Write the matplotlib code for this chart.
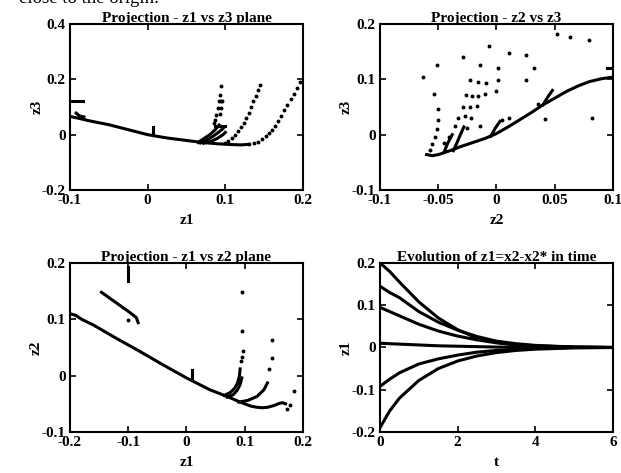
import numpy as np
import matplotlib
matplotlib.use("Agg")
import matplotlib.pyplot as plt

plt.rcParams['font.family'] = ['Liberation Serif', 'DejaVu Serif']
plt.rcParams['font.weight'] = 'bold'
plt.rcParams['font.size'] = 10

# ---- top-left: z1 vs z3 ----
tl_main_x = [-0.1, -0.09, -0.075, -0.05, -0.025, 0.0, 0.025, 0.05, 0.07, 0.09, 0.11, 0.12, 0.13]
tl_main_y = [0.066, 0.06, 0.05, 0.036, 0.018, 0.0, -0.012, -0.021, -0.028, -0.033, -0.036, -0.037, -0.035]
tl_dots_a_x = [0.13, 0.137, 0.142, 0.147, 0.152, 0.156, 0.16, 0.164, 0.168, 0.172, 0.176, 0.18, 0.184, 0.188, 0.192, 0.196]
tl_dots_a_y = [-0.035, -0.031, -0.025, -0.016, -0.006, 0.005, 0.018, 0.033, 0.05, 0.068, 0.088, 0.108, 0.128, 0.148, 0.17, 0.192]
tl_dots_b_x = [0.1, 0.104, 0.108, 0.112, 0.116, 0.12, 0.124, 0.127, 0.13, 0.133, 0.136, 0.139, 0.142, 0.145]
tl_dots_b_y = [-0.03, -0.022, -0.012, -0.001, 0.012, 0.026, 0.042, 0.06, 0.08, 0.1, 0.12, 0.14, 0.16, 0.178]
tl_dots_c_x = [0.085, 0.087, 0.088, 0.093, 0.095, 0.091, 0.095, 0.092, 0.096, 0.093, 0.095]
tl_dots_c_y = [0.041, 0.053, 0.072, 0.076, 0.096, 0.096, 0.123, 0.123, 0.123, 0.145, 0.175]
tl_fan = [
    ([0.065, 0.072, 0.08, 0.087, 0.092], [-0.028, -0.015, 0.0, 0.018, 0.035]),
    ([0.068, 0.076, 0.084, 0.091, 0.097], [-0.03, -0.02, -0.006, 0.008, 0.022]),
    ([0.072, 0.082, 0.09, 0.097, 0.1], [-0.031, -0.024, -0.013, 0.0, 0.008]),
    ([0.087, 0.1], [0.03, 0.03]),
    ([-0.1, -0.083], [0.12, 0.12]),
    ([0.007, 0.007], [0.0, 0.029]),
    ([-0.092, -0.088, -0.082], [0.078, 0.068, 0.064]),
]

# ---- top-right: z2 vs z3 ----
tr_main_x = [-0.06, -0.055, -0.05, -0.04, -0.03, -0.02, -0.01, 0.0, 0.01, 0.02, 0.03, 0.04, 0.05, 0.06, 0.07, 0.08, 0.09, 0.1]
tr_main_y = [-0.036, -0.038, -0.036, -0.029, -0.021, -0.014, -0.007, 0.002, 0.014, 0.027, 0.04, 0.054, 0.066, 0.078, 0.088, 0.096, 0.101, 0.104]
tr_dots_x = [-0.063, -0.051, -0.054, -0.05, -0.05, -0.051, -0.053, -0.055, -0.057,
             -0.029, -0.014, -0.023, -0.016, -0.009, -0.026, -0.021, -0.016, -0.010,
             -0.029, -0.023, -0.017, -0.033, -0.027, -0.022, -0.036, -0.025, -0.014,
             -0.006, 0.0015, 0.0015, 0.0, 0.011, 0.025, 0.0325, 0.025, 0.052, 0.063,
             0.079, 0.036, 0.042, 0.082, 0.011, 0.0045, -0.045, -0.041]
tr_dots_y = [0.105, 0.125, 0.074, 0.046, 0.027, 0.01, -0.005, -0.017, -0.028,
             0.141, 0.126, 0.099, 0.096, 0.093, 0.072, 0.069, 0.069, 0.074,
             0.05, 0.05, 0.052, 0.031, 0.033, 0.03, 0.016, 0.012, 0.016,
             0.16, 0.121, 0.098, 0.079, 0.148, 0.144, 0.121, 0.098, 0.182, 0.176,
             0.171, 0.055, 0.028, 0.031, 0.031, 0.027, -0.015, -0.005]
tr_branches = [
    ([-0.045, -0.042, -0.038], [-0.032, -0.016, 0.0]),
    ([-0.037, -0.034, -0.031, -0.028], [-0.029, -0.015, 0.0, 0.014]),
    ([-0.005, -0.001, 0.003], [-0.003, 0.012, 0.024]),
    ([0.04, 0.044, 0.048], [0.054, 0.068, 0.08]),
    ([0.095, 0.1], [0.121, 0.121]),
]

# ---- bottom-left: z1 vs z2 ----
bl_main_x = [-0.2, -0.19, -0.18, -0.16, -0.12, -0.08, -0.04, 0.0, 0.04, 0.07, 0.09, 0.1, 0.11, 0.12, 0.13, 0.14, 0.15, 0.16, 0.165, 0.17]
bl_main_y = [0.11, 0.107, 0.1, 0.09, 0.066, 0.043, 0.019, -0.004, -0.025, -0.037, -0.046, -0.05, -0.054, -0.056, -0.057, -0.056, -0.053, -0.049, -0.048, -0.05]
bl_dots_x = [0.093, 0.095, 0.097, 0.095, 0.095, 0.142, 0.147, 0.146, 0.178, 0.173, 0.184, -0.101]
bl_dots_y = [0.026, 0.034, 0.043, 0.079, 0.148, 0.012, 0.032, 0.064, -0.052, -0.06, -0.028, 0.098]
bl_branches = [
    ([0.065, 0.075, 0.083, 0.088, 0.091, 0.092], [-0.035, -0.03, -0.022, -0.012, 0.0, 0.012]),
    ([0.07, 0.08, 0.087, 0.092, 0.095], [-0.038, -0.034, -0.026, -0.016, -0.004]),
    ([0.09, 0.105, 0.121, 0.133, 0.139], [-0.047, -0.044, -0.037, -0.025, -0.013]),
    ([-0.146, -0.097, -0.086, -0.083], [0.148, 0.112, 0.103, 0.094]),
    ([-0.1, -0.1], [0.192, 0.168]),
    ([0.01, 0.01], [-0.005, 0.01]),
]

# ---- bottom-right: z1 in time ----
t = [0, 0.25, 0.5, 1, 1.5, 2, 2.5, 3, 3.5, 4, 5, 6]
z1_runs = [
    [0.2, 0.18, 0.155, 0.108, 0.07, 0.042, 0.022, 0.012, 0.007, 0.004, 0.001, 0],
    [0.145, 0.13, 0.118, 0.085, 0.06, 0.041, 0.026, 0.015, 0.009, 0.005, 0.001, 0],
    [0.095, 0.085, 0.075, 0.055, 0.039, 0.027, 0.018, 0.011, 0.006, 0.003, 0.001, 0],
    [0.01, 0.009, 0.008, 0.006, 0.004, 0.003, 0.002, 0.001, 0.0005, 0, 0, 0],
    [-0.092, -0.075, -0.06, -0.039, -0.027, -0.018, -0.011, -0.007, -0.004, -0.002, 0, 0],
    [-0.19, -0.15, -0.12, -0.078, -0.05, -0.032, -0.02, -0.012, -0.007, -0.004, -0.001, 0],
]

lw = 2.2
dot = dict(ls='none', marker='o', ms=1.8, color='k')


def style(ax, xt, xl, yt, yl, title, xlabel, ylabel):
    ax.set_xlim(xt[0], xt[-1])
    ax.set_ylim(yt[0], yt[-1])
    ax.set_xticks(xt)
    ax.set_xticklabels(xl)
    ax.set_yticks(yt)
    ax.set_yticklabels(yl)
    ax.tick_params(direction='in', top=True, right=True, length=4, width=1.2, labelsize=11, pad=3)
    for s in ax.spines.values():
        s.set_linewidth(1.5)
    ax.set_title(title, fontsize=11, fontweight='bold', y=1.0, pad=1.5)
    ax.set_xlabel(xlabel, fontsize=11, fontweight='bold', labelpad=5)
    ax.set_ylabel(ylabel, fontsize=11, fontweight='bold', labelpad=-1)


fig = plt.figure(figsize=(6.21, 4.73), dpi=100)
# caption line of the page, cut by the top edge as in the scan
fig.text(0.03, 0.9935, "close to the origin.", fontsize=13.5, va='baseline', ha='left',
         fontweight='normal')

ax1 = fig.add_axes([0.1127, 0.5983, 0.3752, 0.351])
ax1.plot(tl_main_x, tl_main_y, 'k-', lw=lw)
for xs, ys in tl_fan:
    ax1.plot(xs, ys, 'k-', lw=lw)
ax1.plot(tl_dots_a_x, tl_dots_a_y, **dot)
ax1.plot(tl_dots_b_x, tl_dots_b_y, **dot)
ax1.plot(tl_dots_c_x, tl_dots_c_y, **dot)
style(ax1, [-0.1, 0, 0.1, 0.2], ['-0.1', '0', '0.1', '0.2'],
      [-0.2, 0, 0.2, 0.4], ['-0.2', '0', '0.2', '0.4'],
      'Projection - z1 vs z3 plane', 'z1', 'z3')

ax2 = fig.add_axes([0.6119, 0.5983, 0.3752, 0.351])
ax2.plot(tr_main_x, tr_main_y, 'k-', lw=lw)
for xs, ys in tr_branches:
    ax2.plot(xs, ys, 'k-', lw=lw)
ax2.plot(tr_dots_x, tr_dots_y, **dot)
style(ax2, [-0.1, -0.05, 0, 0.05, 0.1], ['-0.1', '-0.05', '0', '0.05', '0.1'],
      [-0.1, 0, 0.1, 0.2], ['-0.1', '0', '0.1', '0.2'],
      'Projection - z2 vs z3', 'z2', 'z3')

ax3 = fig.add_axes([0.1127, 0.0867, 0.3752, 0.3573])
ax3.plot(bl_main_x, bl_main_y, 'k-', lw=lw)
for xs, ys in bl_branches:
    ax3.plot(xs, ys, 'k-', lw=lw)
ax3.plot(bl_dots_x, bl_dots_y, **dot)
style(ax3, [-0.2, -0.1, 0, 0.1, 0.2], ['-0.2', '-0.1', '0', '0.1', '0.2'],
      [-0.1, 0, 0.1, 0.2], ['-0.1', '0', '0.1', '0.2'],
      'Projection - z1 vs z2 plane', 'z1', 'z2')

ax4 = fig.add_axes([0.6119, 0.0867, 0.3752, 0.3573])
for run in z1_runs:
    ax4.plot(t, run, 'k-', lw=lw)
style(ax4, [0, 2, 4, 6], ['0', '2', '4', '6'],
      [-0.2, -0.1, 0, 0.1, 0.2], ['-0.2', '-0.1', '0', '0.1', '0.2'],
      'Evolution of z1=x2-x2* in time', 't', 'z1')

fig.savefig('out.png', dpi=100)
